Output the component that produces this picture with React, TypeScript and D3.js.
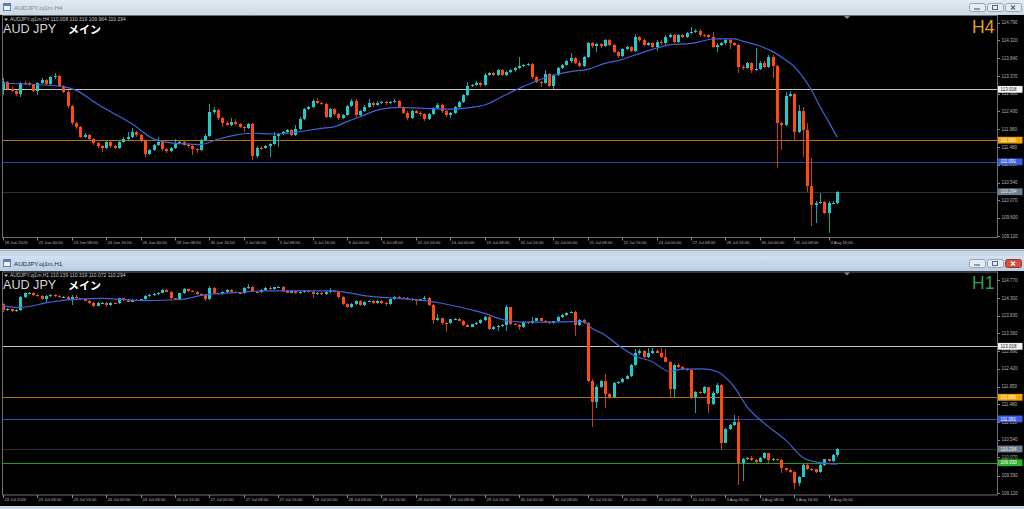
import React from 'react';
import * as d3 from 'd3';

// MT4-style screenshot: AUDJPY H4 window on top, H1 window below.
const W = 1024;
const H = 509;

// ---------- H4 data (bar 0 = 18 Jun 16:00) ----------
const h4FirstOpen = 113.04;
const h4Close = [
  113.22, 113.04, 112.98, 112.89, 113.19, 113.18, 113.15, 112.98, 113.19, 113.27,
  113.16, 113.34, 113.37, 113.11, 112.96, 112.57, 112.11, 112.02, 111.76, 111.80,
  111.69, 111.58, 111.51, 111.45, 111.61, 111.51, 111.46, 111.62, 111.71, 111.76,
  111.88, 111.80, 111.65, 111.30, 111.40, 111.53, 111.62, 111.42, 111.38, 111.45,
  111.60, 111.63, 111.55, 111.50, 111.42, 111.40, 111.67, 111.79, 112.41, 112.47,
  112.25, 112.13, 112.08, 112.15, 112.10, 112.02, 111.99, 112.10, 111.24, 111.47,
  111.45, 111.51, 111.56, 111.79, 111.83, 111.87, 111.94, 111.81, 111.97, 112.24,
  112.49, 112.54, 112.72, 112.66, 112.63, 112.29, 112.49, 112.36, 112.25, 112.33,
  112.57, 112.72, 112.33, 112.45, 112.56, 112.65, 112.60, 112.66, 112.69, 112.65,
  112.69, 112.71, 112.54, 112.40, 112.25, 112.45, 112.40, 112.35, 112.22, 112.36,
  112.52, 112.60, 112.43, 112.33, 112.38, 112.54, 112.68, 112.87, 113.11, 113.13,
  113.19, 113.13, 113.41, 113.44, 113.40, 113.54, 113.40, 113.48, 113.52, 113.58,
  113.64, 113.66, 113.69, 113.34, 113.22, 113.19, 113.42, 113.11, 113.40, 113.58,
  113.66, 113.76, 113.84, 113.73, 113.65, 113.87, 114.24, 114.17, 114.23, 114.17,
  114.33, 114.20, 114.02, 113.90, 114.10, 114.15, 114.05, 114.40, 114.33, 114.20,
  114.26, 114.15, 114.29, 114.24, 114.42, 114.46, 114.29, 114.47, 114.42, 114.51,
  114.55, 114.58, 114.46, 114.45, 114.42, 114.15, 114.21, 114.24, 114.33, 114.26,
  114.20, 113.62, 113.58, 113.71, 113.53, 113.57, 113.73, 113.62, 113.89, 113.64,
  112.11, 112.07, 112.84, 112.89, 111.89, 112.45, 111.94, 110.46, 109.93, 110.00,
  110.03, 109.74, 110.00, 110.008, 110.294,
];
const h4High = [
  113.31, 113.25, 113.08, 113.01, 113.22, 113.24, 113.22, 113.17, 113.22, 113.31,
  113.30, 113.37, 113.44, 113.40, 113.14, 112.99, 112.60, 112.16, 112.05, 111.86,
  111.83, 111.72, 111.62, 111.54, 111.64, 111.64, 111.55, 111.65, 111.74, 111.89,
  111.98, 111.91, 111.83, 111.68, 111.44, 111.56, 111.76, 111.65, 111.46, 111.48,
  111.71, 111.67, 111.66, 111.58, 111.53, 111.46, 111.70, 111.83, 112.63, 112.56,
  112.50, 112.28, 112.17, 112.25, 112.22, 112.13, 112.05, 112.13, 112.13, 111.50,
  111.51, 111.55, 111.60, 111.87, 111.86, 111.90, 111.97, 111.97, 112.07, 112.27,
  112.52, 112.58, 112.77, 112.80, 112.69, 112.66, 112.52, 112.52, 112.39, 112.36,
  112.60, 112.77, 112.75, 112.48, 112.59, 112.75, 112.68, 112.72, 112.72, 112.72,
  112.72, 112.75, 112.74, 112.57, 112.43, 112.48, 112.48, 112.43, 112.38, 112.39,
  112.55, 112.66, 112.63, 112.46, 112.41, 112.57, 112.71, 112.90, 113.22, 113.17,
  113.25, 113.22, 113.44, 113.48, 113.48, 113.57, 113.57, 113.51, 113.55, 113.61,
  113.87, 113.70, 113.73, 113.72, 113.37, 113.25, 113.53, 113.45, 113.43, 113.61,
  113.69, 113.79, 113.99, 113.87, 113.76, 113.90, 114.27, 114.28, 114.26, 114.26,
  114.36, 114.36, 114.23, 114.05, 114.13, 114.18, 114.18, 114.49, 114.43, 114.36,
  114.29, 114.29, 114.32, 114.32, 114.45, 114.52, 114.49, 114.50, 114.50, 114.54,
  114.67, 114.61, 114.61, 114.49, 114.48, 114.55, 114.24, 114.27, 114.36, 114.36,
  114.29, 114.23, 113.66, 113.74, 113.74, 114.11, 113.76, 113.76, 113.92, 113.92,
  113.67, 112.15, 112.96, 112.98, 112.92, 112.60, 112.55, 112.11, 111.18, 110.05,
  110.25, 110.06, 110.04, 110.05, 110.319,
];
const h4Low = [
  112.87, 113.00, 112.94, 112.85, 112.82, 113.14, 113.11, 112.94, 112.86, 113.16,
  113.12, 113.13, 113.30, 113.08, 112.92, 112.53, 112.07, 111.97, 111.72, 111.72,
  111.65, 111.54, 111.47, 111.36, 111.42, 111.47, 111.42, 111.43, 111.59, 111.68,
  111.73, 111.76, 111.61, 111.23, 111.27, 111.37, 111.50, 111.39, 111.32, 111.34,
  111.42, 111.57, 111.52, 111.46, 111.27, 111.32, 111.37, 111.64, 111.76, 112.37,
  112.21, 112.02, 112.04, 112.05, 112.06, 111.98, 111.89, 111.96, 111.14, 111.18,
  111.41, 111.42, 111.23, 111.53, 111.49, 111.80, 111.84, 111.78, 111.78, 111.94,
  112.21, 112.46, 112.51, 112.62, 112.59, 112.25, 112.26, 112.32, 112.21, 112.22,
  112.30, 112.54, 112.29, 112.30, 112.42, 112.53, 112.56, 112.57, 112.63, 112.61,
  112.62, 112.66, 112.51, 112.36, 112.20, 112.22, 112.36, 112.31, 112.18, 112.19,
  112.33, 112.49, 112.39, 112.29, 112.25, 112.35, 112.51, 112.65, 112.84, 113.07,
  113.10, 113.09, 113.10, 113.37, 113.36, 113.37, 113.36, 113.37, 113.45, 113.49,
  113.55, 113.61, 113.63, 113.30, 113.18, 113.09, 113.16, 113.07, 113.04, 113.37,
  113.55, 113.63, 113.73, 113.69, 113.61, 113.62, 113.84, 114.13, 114.02, 114.13,
  114.14, 114.16, 113.98, 113.86, 113.87, 114.07, 114.01, 114.02, 114.29, 114.16,
  114.17, 114.11, 114.05, 114.20, 114.21, 114.39, 114.25, 114.26, 114.38, 114.39,
  114.48, 114.52, 114.42, 114.41, 114.38, 114.11, 114.02, 114.18, 114.21, 114.08,
  114.16, 113.44, 113.54, 113.55, 113.44, 113.50, 113.54, 113.58, 113.59, 113.31,
  110.92, 111.40, 112.04, 112.81, 111.67, 111.86, 111.23, 110.30, 109.37, 109.45,
  109.97, 109.70, 109.21, 109.96, 109.964,
];
const h4MaBars = [
  0, 14, 17, 22, 30, 35, 40, 46, 50, 54, 58, 63, 69, 74, 77, 80, 83, 88, 92, 98, 105, 109, 112, 116,
  120, 124, 129, 132, 136, 140, 143, 147, 151, 155, 160, 163, 165, 170, 172, 176, 179, 182, 184, 186,
  188, 190, 192, 194,
];
const h4MaValues = [
  113.18, 113.09, 112.99, 112.62, 112.10, 111.70, 111.58, 111.55, 111.69, 111.80, 111.85, 111.83,
  111.89, 111.98, 112.02, 112.16, 112.29, 112.49, 112.54, 112.51, 112.49, 112.54, 112.60, 112.82,
  113.04, 113.24, 113.42, 113.49, 113.55, 113.71, 113.78, 113.93, 114.08, 114.20, 114.24, 114.31,
  114.36, 114.36, 114.30, 114.17, 114.02, 113.80, 113.62, 113.35, 113.00, 112.56, 112.16, 111.74,
];
const h4PriceTicks = [114.79, 114.32, 113.84, 113.37, 112.9, 112.43, 111.96, 111.48, 111.01, 110.54, 110.07, 109.6, 109.12];
const h4TimeLabels = [
  '18 Jun 2026', '22 Jun 00:00', '23 Jun 08:00', '24 Jun 16:00', '26 Jun 00:00', '29 Jun 08:00',
  '30 Jun 16:00', '2 Jul 00:00', '3 Jul 08:00', '6 Jul 16:00', '8 Jul 00:00', '9 Jul 08:00',
  '10 Jul 16:00', '14 Jul 00:00', '15 Jul 08:00', '16 Jul 16:00', '20 Jul 00:00', '21 Jul 08:00',
  '22 Jul 16:00', '24 Jul 00:00', '27 Jul 08:00', '28 Jul 16:00', '30 Jul 00:00', '31 Jul 08:00',
  '3 Aug 16:00',
];
const h4Levels = [113.018, 111.666, 111.091, 110.294];

// ---------- H1 data (bar 0 = 23 Jul 00:00) ----------
const h1FirstOpen = 114.14;
const h1Close = [
  113.98, 114.0, 113.96, 113.99, 114.335, 114.42, 114.44, 114.38, 114.36, 114.26,
  114.35, 114.38, 114.35, 114.32, 114.335, 114.26, 114.335, 114.29, 114.26, 114.23,
  114.175, 114.1, 114.16, 114.175, 114.11, 114.175, 114.16, 114.29, 114.25, 114.2,
  114.25, 114.23, 114.26, 114.35, 114.38, 114.41, 114.44, 114.51, 114.47, 114.29,
  114.28, 114.42, 114.53, 114.49, 114.47, 114.41, 114.38, 114.26, 114.56, 114.42,
  114.41, 114.46, 114.51, 114.47, 114.44, 114.42, 114.56, 114.6, 114.47, 114.46,
  114.51, 114.56, 114.53, 114.58, 114.6, 114.49, 114.44, 114.49, 114.42, 114.46,
  114.49, 114.46, 114.41, 114.44, 114.41, 114.46, 114.49, 114.47, 114.335, 114.14,
  114.07, 114.14, 114.23, 114.12, 114.2, 114.22, 114.17, 114.23, 114.17, 114.14,
  114.26, 114.32, 114.28, 114.3, 114.27, 114.25, 114.23, 114.26, 114.31, 114.11,
  113.72, 113.76, 113.645, 113.63, 113.73, 113.75, 113.7, 113.575, 113.54, 113.6,
  113.645, 113.715, 113.79, 113.47, 113.54, 113.56, 113.58, 114.05, 113.61, 113.59,
  113.52, 113.67, 113.63, 113.7, 113.76, 113.7, 113.66, 113.63, 113.68, 113.79,
  113.85, 113.91, 113.93, 113.58, 113.72, 113.63, 112.11, 111.55, 111.95, 112.1,
  111.75, 111.66, 112.04, 112.07, 112.16, 112.23, 112.52, 112.83, 112.9, 112.725,
  112.83, 112.9, 112.85, 112.725, 112.61, 111.88, 112.52, 112.46, 112.41, 112.39,
  111.66, 111.815, 111.77, 111.93, 111.49, 111.79, 111.99, 110.44, 110.82, 110.93,
  111.02, 109.91, 110.02, 110.05, 110.0, 109.96, 110.05, 110.18, 110.0, 110.02,
  110.0, 109.78, 109.74, 109.69, 109.38, 109.56, 109.87, 109.76, 109.75, 109.69,
  109.87, 110.02, 109.98, 110.139, 110.294,
];
const h1High = [
  114.16, 114.03, 114.02, 114.02, 114.36, 114.45, 114.46, 114.46, 114.4, 114.38,
  114.37, 114.4, 114.4, 114.37, 114.36, 114.36, 114.37, 114.37, 114.31, 114.28,
  114.25, 114.19, 114.18, 114.2, 114.19, 114.2, 114.2, 114.31, 114.31, 114.27,
  114.27, 114.27, 114.28, 114.37, 114.4, 114.43, 114.46, 114.53, 114.53, 114.49,
  114.31, 114.44, 114.56, 114.55, 114.51, 114.49, 114.43, 114.4, 114.62, 114.58,
  114.44, 114.48, 114.53, 114.53, 114.49, 114.46, 114.58, 114.67, 114.62, 114.49,
  114.53, 114.58, 114.62, 114.6, 114.63, 114.62, 114.51, 114.51, 114.51, 114.48,
  114.51, 114.51, 114.48, 114.46, 114.46, 114.48, 114.56, 114.51, 114.49, 114.35,
  114.16, 114.16, 114.25, 114.25, 114.22, 114.24, 114.24, 114.25, 114.25, 114.19,
  114.28, 114.34, 114.34, 114.32, 114.32, 114.29, 114.27, 114.28, 114.35, 114.33,
  114.13, 113.875, 113.78, 113.67, 113.75, 113.77, 113.77, 113.72, 113.6, 113.62,
  113.67, 113.74, 113.81, 113.81, 113.56, 113.58, 113.6, 114.11, 114.07, 113.63,
  113.61, 113.69, 113.69, 113.8, 113.78, 113.78, 113.72, 113.68, 113.7, 113.81,
  113.87, 113.93, 113.96, 113.95, 113.74, 113.74, 113.66, 112.14, 111.98, 112.13,
  112.28, 111.78, 112.06, 112.1, 112.18, 112.26, 112.55, 112.94, 112.955, 112.92,
  112.96, 112.96, 112.94, 112.96, 112.94, 112.63, 112.55, 112.57, 112.49, 112.43,
  112.41, 111.84, 111.84, 111.96, 111.95, 111.82, 112.04, 112.01, 110.85, 110.96,
  111.2, 111.17, 110.05, 110.08, 110.11, 110.02, 110.07, 110.22, 110.2, 110.05,
  110.04, 110.02, 109.8, 109.76, 109.71, 109.58, 109.89, 109.91, 109.79, 109.77,
  109.89, 110.04, 110.04, 110.16, 110.319,
];
const h1Low = [
  113.94, 113.95, 113.93, 113.93, 113.96, 114.31, 114.4, 114.36, 114.33, 114.24,
  114.2, 114.33, 114.33, 114.29, 114.3, 114.24, 114.11, 114.27, 114.24, 114.21,
  114.15, 114.07, 114.08, 114.14, 114.05, 114.09, 114.14, 114.14, 114.23, 114.18,
  114.18, 114.21, 114.21, 114.24, 114.33, 114.36, 114.39, 114.42, 114.45, 114.27,
  114.25, 114.26, 114.4, 114.47, 114.45, 114.39, 114.36, 114.23, 114.24, 114.4,
  114.38, 114.39, 114.44, 114.45, 114.42, 114.4, 114.4, 114.54, 114.45, 114.43,
  114.44, 114.49, 114.51, 114.51, 114.56, 114.47, 114.42, 114.42, 114.4, 114.4,
  114.44, 114.44, 114.29, 114.39, 114.39, 114.39, 114.44, 114.45, 114.31, 114.12,
  114.04, 114.025, 114.12, 114.1, 114.1, 114.18, 114.15, 114.15, 114.15, 114.09,
  114.12, 114.24, 114.26, 114.26, 114.25, 114.23, 114.11, 114.21, 114.24, 114.09,
  113.61, 113.7, 113.58, 113.41, 113.61, 113.71, 113.68, 113.55, 113.52, 113.52,
  113.58, 113.62, 113.69, 113.45, 113.45, 113.43, 113.54, 113.43, 113.59, 113.57,
  113.45, 113.5, 113.61, 113.61, 113.68, 113.68, 113.64, 113.61, 113.61, 113.66,
  113.77, 113.83, 113.89, 113.29, 113.56, 113.61, 112.08, 110.89, 111.37, 111.92,
  111.37, 111.63, 111.64, 112.01, 112.05, 112.14, 112.21, 112.5, 112.8, 112.7,
  112.7, 112.81, 112.83, 112.7, 112.59, 111.64, 111.68, 112.44, 112.39, 112.37,
  111.63, 111.24, 111.74, 111.74, 111.26, 111.46, 111.76, 110.27, 110.44, 110.79,
  110.9, 109.34, 109.45, 109.99, 109.98, 109.93, 109.94, 110.03, 109.91, 109.98,
  109.97, 109.67, 109.71, 109.66, 109.22, 109.3, 109.54, 109.73, 109.72, 109.65,
  109.67, 109.85, 109.96, 109.96, 110.072,
];
const h1MaBars = [
  0, 4, 11, 15, 23, 29, 33, 41, 47, 54, 61, 69, 77, 79, 85, 92, 98, 102, 109, 112, 116, 121, 128, 132,
  135, 137, 140, 143, 147, 151, 155, 158, 163, 166, 170, 173, 177, 182, 186, 190, 194,
];
const h1MaValues = [
  114.09, 114.05, 114.19, 114.25, 114.29, 114.25, 114.23, 114.26, 114.38, 114.44, 114.49, 114.49,
  114.49, 114.46, 114.35, 114.29, 114.23, 114.16, 113.98, 113.89, 113.73, 113.66, 113.66, 113.67,
  113.67, 113.49, 113.32, 113.05, 112.76, 112.61, 112.35, 112.41, 112.42, 112.35, 111.95, 111.42,
  110.98, 110.53, 110.07, 109.93, 109.89,
];
const h1PriceTicks = [114.77, 114.3, 113.83, 113.36, 112.89, 112.42, 111.95, 111.48, 111.01, 110.54, 110.07, 109.59, 109.12];
const h1TimeLabels = [
  '23 Jul 2026', '23 Jul 08:00', '23 Jul 16:00', '24 Jul 00:00', '24 Jul 08:00', '24 Jul 16:00',
  '27 Jul 00:00', '27 Jul 08:00', '27 Jul 16:00', '28 Jul 00:00', '28 Jul 08:00', '28 Jul 16:00',
  '29 Jul 00:00', '29 Jul 08:00', '29 Jul 16:00', '30 Jul 00:00', '30 Jul 08:00', '30 Jul 16:00',
  '31 Jul 00:00', '31 Jul 08:00', '31 Jul 16:00', '3 Aug 00:00', '3 Aug 08:00', '3 Aug 16:00',
  '4 Aug 00:00',
];
const h1Levels = [113.018, 111.666, 111.091, 110.294, 109.93];

// line / label-box styles for the horizontal levels, in order
const LEVEL_STYLES = [
  { line: '#c4c4c4', box: '#f2f2f2', text: '#222' },
  { line: '#b87300', box: '#f2a300', text: '#fff' },
  { line: '#2b46b8', box: '#3a5ee0', text: '#fff' },
  { line: '#2e2e2e', box: '#6f7f8f', text: '#e8e8e8' },
  { line: '#239a23', box: '#28b428', text: '#fff' },
];

const BULL = '#22c9c9';
const BEAR = '#ff4a10';
const MA_COLOR = '#4262da';
const AXIS_TEXT = '#b4b4b4';
const FONT = 'Liberation Sans, Arial, sans-serif';

interface WinProps {
  id: string;
  top: number; // window top (title bar)
  plotTop: number;
  axisY: number;
  bottom: number;
  title: string;
  active: boolean;
  header: string;
  tf: string;
  tfColor: string;
  firstOpen: number;
  closes: number[];
  highs: number[];
  lows: number[];
  maBars: number[];
  maValues: number[];
  priceTicks: number[];
  timeLabels: string[];
  levels: number[];
  yDomain: [number, number];
  yRange: [number, number];
}

const TitleButtons: React.FC<{ y: number; active: boolean }> = ({ y, active }) => {
  const xs = [969, 987, 1005];
  return (
    <g>
      {xs.map((bx, i) => {
        const red = active && i === 2;
        return (
          <g key={i}>
            <rect x={bx + 0.5} y={y + 0.5} width={16} height={8} rx={2}
              fill={red ? '#d2503f' : '#e4ebf3'} stroke={red ? '#9a3a2c' : '#94a3b5'} />
            {i === 0 && <line x1={bx + 5} x2={bx + 11} y1={y + 6} y2={y + 6} stroke="#59677a" strokeWidth={1.2} />}
            {i === 1 && <rect x={bx + 5.5} y={y + 2.5} width={5} height={4} fill="none" stroke="#59677a" />}
            {i === 2 && (
              <path d={`M${bx + 6},${y + 2.5}L${bx + 10},${y + 6.5}M${bx + 10},${y + 2.5}L${bx + 6},${y + 6.5}`}
                stroke={red ? '#fff' : '#59677a'} strokeWidth={1.2} />
            )}
          </g>
        );
      })}
    </g>
  );
};

const ChartWindow: React.FC<WinProps> = (p) => {
  const n = p.closes.length;
  const x = d3.scaleLinear().domain([0, 194]).range([3, 837.2]);
  const y = d3.scaleLinear().domain(p.yDomain).range(p.yRange);
  const opens = p.closes.map((c, i) => (i === 0 ? p.firstOpen : p.closes[i - 1]));

  const maPath = d3
    .line<number>()
    .x((_, i) => x(p.maBars[i]))
    .y((d) => y(d))
    .curve(d3.curveMonotoneX)(p.maValues) ?? '';

  const titleH = 15;
  const gradId = `tb-${p.id}`;
  const clipId = `clip-${p.id}`;

  return (
    <g>
      <defs>
        <linearGradient id={gradId} x1="0" y1="0" x2="0" y2="1">
          <stop offset="0" stopColor={p.active ? '#d3e1f1' : '#e3eaf2'} />
          <stop offset="1" stopColor={p.active ? '#b8cce3' : '#cbd7e4'} />
        </linearGradient>
        <clipPath id={clipId}>
          <rect x={3} y={p.plotTop} width={994} height={p.axisY - p.plotTop} />
        </clipPath>
      </defs>

      {/* title bar */}
      <rect x={0} y={p.top} width={W} height={titleH} fill={`url(#${gradId})`} />
      <rect x={3.5} y={p.top + 3.5} width={7} height={7} fill="#eef4fb" stroke="#5b7fb3" />
      <rect x={4} y={p.top + 4} width={6} height={2} fill="#5b7fb3" />
      <text x={14} y={p.top + 9.5} fontFamily={FONT} fontSize={6.2} fill={p.active ? '#1d2733' : '#7b8898'}>
        {p.title}
      </text>
      <TitleButtons y={p.top + 3} active={p.active} />

      {/* chart area */}
      <rect x={0} y={p.top + titleH} width={W} height={p.bottom - p.top - titleH} fill="#000" />
      <rect x={2.5} y={p.plotTop + 0.5} width={995} height={p.axisY - p.plotTop - 0.5} fill="none" stroke="#6e6e6e" />

      {/* horizontal levels */}
      {p.levels.map((lv, i) => (
        <line key={`lv${i}`} x1={3} x2={997} y1={Math.round(y(lv)) + 0.5} y2={Math.round(y(lv)) + 0.5}
          stroke={LEVEL_STYLES[i].line} strokeWidth={1} />
      ))}

      {/* candles */}
      <g clipPath={`url(#${clipId})`} shapeRendering="crispEdges">
        {d3.range(n).map((i) => {
          const cx = Math.round(x(i));
          const o = opens[i];
          const c = p.closes[i];
          const up = c >= o;
          const col = up ? BULL : BEAR;
          const yTop = y(Math.max(o, c));
          const yBot = y(Math.min(o, c));
          return (
            <g key={i}>
              <line x1={cx + 0.5} x2={cx + 0.5} y1={y(p.highs[i])} y2={y(p.lows[i])} stroke={col} strokeOpacity={0.8} />
              <rect x={cx - 1} y={yTop} width={3} height={Math.max(1, yBot - yTop)} fill={col} />
            </g>
          );
        })}
      </g>

      {/* moving average */}
      <path d={maPath} fill="none" stroke={MA_COLOR} strokeWidth={1.2} clipPath={`url(#${clipId})`} />

      {/* chart-shift marker */}
      <path d={`M844,${p.plotTop + 1}L850,${p.plotTop + 1}L847,${p.plotTop + 4}Z`} fill="#8a8a8a" />

      {/* header texts */}
      <path d={`M4,${p.top + 18.5}L8,${p.top + 18.5}L6,${p.top + 21}Z`} fill="#bbb" />
      <text x={10} y={p.top + 21} fontFamily={FONT} fontSize={5} fill="#c4c4c4">
        {p.header}
      </text>
      <text x={3} y={p.top + 33} fontFamily={FONT} fontSize={12.6} fill="#d6d6d6">
        AUD JPY
      </text>
      <text x={68} y={p.top + 33.5} fontFamily="Noto Sans CJK JP, sans-serif" fontSize={11} fontWeight={700} fill="#fff">
        メイン
      </text>
      <text x={972} y={p.top + 33} fontFamily={FONT} fontSize={17.5} fill={p.tfColor}>
        {p.tf}
      </text>

      {/* price axis */}
      {p.priceTicks.map((v) => (
        <g key={`pt${v}`}>
          <line x1={998} x2={1000} y1={Math.round(y(v)) + 0.5} y2={Math.round(y(v)) + 0.5} stroke="#8a8a8a" />
          <text x={1001.5} y={y(v) + 1.6} fontFamily={FONT} fontSize={4.5} fill={AXIS_TEXT}>
            {v.toFixed(3)}
          </text>
        </g>
      ))}
      {p.levels.map((lv, i) => (
        <g key={`lb${i}`}>
          <rect x={998} y={y(lv) - 3.4} width={24.5} height={6.8} fill={LEVEL_STYLES[i].box} />
          <text x={1000.5} y={y(lv) + 1.6} fontFamily={FONT} fontSize={4.5} fill={LEVEL_STYLES[i].text}>
            {lv.toFixed(3)}
          </text>
        </g>
      ))}

      {/* time axis */}
      {p.timeLabels.map((lab, k) => {
        const tx = Math.round(x(k * 8)) + 0.5;
        return (
          <g key={`tl${k}`}>
            <line x1={tx} x2={tx} y1={p.axisY} y2={p.axisY + 3} stroke="#8a8a8a" />
            <text x={tx + 1} y={p.axisY + 6.4} fontFamily={FONT} fontSize={4.2} fill={AXIS_TEXT}>
              {lab}
            </text>
          </g>
        );
      })}
    </g>
  );
};

export default function App() {
  return (
    <div style={{ position: 'absolute', left: 0, top: 0, width: W, height: H, overflow: 'hidden' }}>
      <svg width={W} height={H} viewBox={`0 0 ${W} ${H}`} style={{ display: 'block' }}>
        <rect width={W} height={H} fill="#c9d6e3" />
        <ChartWindow
          id="h4"
          top={0}
          plotTop={15}
          axisY={237.5}
          bottom={249}
          title="AUDJPY.oj1m,H4"
          active={false}
          header="AUDJPY.oj1m,H4  110.008 110.319 109.964 110.294"
          tf="H4"
          tfColor="#e9a21a"
          firstOpen={h4FirstOpen}
          closes={h4Close}
          highs={h4High}
          lows={h4Low}
          maBars={h4MaBars}
          maValues={h4MaValues}
          priceTicks={h4PriceTicks}
          timeLabels={h4TimeLabels}
          levels={h4Levels}
          yDomain={[109.12, 114.79]}
          yRange={[235.9, 22.7]}
        />
        <line x1={0} x2={W} y1={250.5} y2={250.5} stroke="#9fb0c2" />
        <ChartWindow
          id="h1"
          top={256}
          plotTop={271.5}
          axisY={495}
          bottom={506}
          title="AUDJPY.oj1m,H1"
          active={true}
          header="AUDJPY.oj1m,H1  110.139 110.319 110.072 110.294"
          tf="H1"
          tfColor="#2e9e4f"
          firstOpen={h1FirstOpen}
          closes={h1Close}
          highs={h1High}
          lows={h1Low}
          maBars={h1MaBars}
          maValues={h1MaValues}
          priceTicks={h1PriceTicks}
          timeLabels={h1TimeLabels}
          levels={h1Levels}
          yDomain={[109.12, 114.77]}
          yRange={[493.25, 280.25]}
        />
      </svg>
    </div>
  );
}
